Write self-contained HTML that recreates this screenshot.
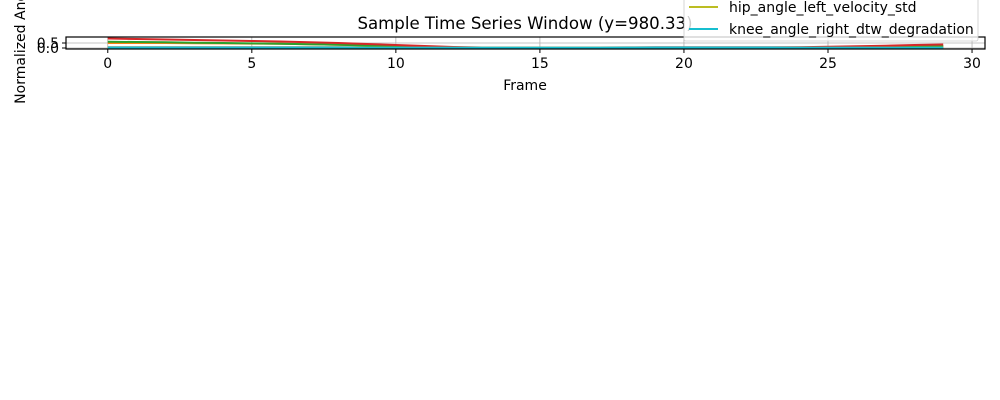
<!DOCTYPE html>
<html><head><meta charset="utf-8"><style>
body{margin:0;background:#fff;width:1000px;height:400px;overflow:hidden;font-family:"DejaVu Sans","Liberation Sans",sans-serif}
svg{display:block}
</style></head><body>
<svg id="chart" width="1000" height="400" style="position:absolute;left:0;top:0;font-family:'DejaVu Sans','Liberation Sans',sans-serif"></svg>
<script>
const frames=[0,1,2,3,4,5,6,7,8,9,10,11,12,13,14,15,16,17,18,19,20,21,22,23,24,25,26,27,28,29];
const seriesNames=["s1","s2","s3","s4","s5","s6","s7","s8","hip_angle_left_velocity_std","knee_angle_right_dtw_degradation"];
const seriesColors=["#1f77b4","#ff7f0e","#2ca02c","#d62728","#9467bd","#8c564b","#e377c2","#7f7f7f","#bcbd22","#17becf"];
const sBlue=[0.08,0.08,0.08,0.08,0.08,0.08,0.08,0.07,0.07,0.06,0.05,0.04,0.03,0.03,0.03,0.03,0.04,0.05,0.06,0.07,0.08,0.08,0.08,0.07,0.06,0.05,0.05,0.05,0.05,0.05];
const sOrange=[0.62,0.6,0.57,0.53,0.5,0.46,0.43,0.38,0.32,0.25,0.17,0.1,0.04,0.02,0.01,0.01,0.01,0.02,0.02,0.03,0.03,0.03,0.03,0.03,0.03,0.04,0.06,0.1,0.15,0.2];
const sGreen=[0.5,0.5,0.5,0.48,0.46,0.44,0.42,0.38,0.33,0.26,0.19,0.12,0.06,0.03,0.02,0.02,0.02,0.02,0.02,0.02,0.02,0.02,0.02,0.02,0.02,0.02,0.05,0.1,0.15,0.2];
const sRed=[0.95,0.9,0.85,0.8,0.75,0.7,0.65,0.58,0.5,0.4,0.3,0.2,0.1,0.05,0.02,0.01,0.01,0.01,0.01,0.01,0.01,0.02,0.03,0.05,0.08,0.12,0.17,0.23,0.3,0.35];
const sCyan=[0.02,0.02,0.02,0.02,0.02,0.02,0.02,0.02,0.02,0.02,0.02,0.02,0.02,0.02,0.02,0.02,0.02,0.02,0.02,0.02,0.02,0.02,0.02,0.02,0.02,0.02,0.02,0.02,0.02,0.02];
const sOlive=[0.04,0.04,0.04,0.04,0.04,0.04,0.04,0.04,0.04,0.04,0.03,0.03,0.03,0.03,0.03,0.03,0.03,0.03,0.03,0.03,0.03,0.03,0.03,0.03,0.03,0.03,0.03,0.04,0.04,0.04];
const seriesData=[sBlue,sGreen,sOrange,sRed,sCyan,sCyan,sCyan,sCyan,sOlive,sCyan];
const xTicks=[0,5,10,15,20,25,30];
const yTicks=[0.0,0.5];

const NS="http://www.w3.org/2000/svg";
const svg=document.getElementById("chart");
const L=66,R=985,T=37,B=49;
const xMin=-1.45,xMax=30.45,yMin=-0.1,yMax=1.1;
const xs=v=>L+(v-xMin)/(xMax-xMin)*(R-L);
const ys=v=>B-(v-yMin)/(yMax-yMin)*(B-T);
function mk(tag,attrs,parent){const e=document.createElementNS(NS,tag);for(const k in attrs)e.setAttribute(k,attrs[k]);(parent||svg).appendChild(e);return e;}

const grid=mk("g",{});


xTicks.forEach(t=>{mk("line",{x1:xs(t),x2:xs(t),y1:T,y2:B,stroke:"#b0b0b0","stroke-width":0.8},grid);});
yTicks.forEach(t=>{mk("line",{x1:L,x2:R,y1:ys(t),y2:ys(t),stroke:"#b0b0b0","stroke-width":0.8},grid);});

const lines=mk("g",{});


seriesData.forEach((d,i)=>{
  const p=mk("polyline",{points:d.map((v,j)=>xs(frames[j])+","+ys(v)).join(" "),fill:"none",stroke:seriesColors[i],"stroke-width":2},lines);
  
  
});

const frame=mk("rect",{x:L,y:T,width:R-L,height:B-T,fill:"none",stroke:"#000","stroke-width":1.2});



const xa=mk("g",{});


xTicks.forEach(t=>{
  mk("line",{x1:xs(t),x2:xs(t),y1:B,y2:B+4,stroke:"#000","stroke-width":1},xa);
  const tx=mk("text",{x:xs(t),y:B+19,"text-anchor":"middle",style:"font-size:14px"},xa);tx.textContent=t;
  
  
});
const ya=mk("g",{});


yTicks.forEach(t=>{
  mk("line",{x1:L-4,x2:L,y1:ys(t),y2:ys(t),stroke:"#000","stroke-width":1},ya);
  const tx=mk("text",{x:L-7,y:ys(t)+5,"text-anchor":"end",style:"font-size:14px"},ya);tx.textContent=t.toFixed(1);
  
  
});
</script>
<svg style="position:absolute;left:0;top:0;font-family:'DejaVu Sans','Liberation Sans',sans-serif" width="1000" height="400">
<text x="525" y="29" style="font-size:16.6px" text-anchor="middle">Sample Time Series Window (y=980.33)</text>
<text x="525" y="90" style="font-size:14px" text-anchor="middle">Frame</text>
<text transform="translate(25,42) rotate(-90)" style="font-size:14px" text-anchor="middle">Normalized Angle</text>
<g>
<rect x="684" y="-10" width="294" height="51" rx="2" fill="#fff" fill-opacity="0.8" stroke="#ccc" stroke-width="0.8"/>
<line x1="689" x2="718" y1="7" y2="7" stroke="#bcbd22" stroke-width="2"/>
<text x="729" y="12" style="font-size:14px">hip_angle_left_velocity_std</text>
<line x1="689" x2="718" y1="29" y2="29" stroke="#17becf" stroke-width="2"/>
<text x="729" y="34" style="font-size:14px">knee_angle_right_dtw_degradation</text>
</g>
</svg>
</body></html>
